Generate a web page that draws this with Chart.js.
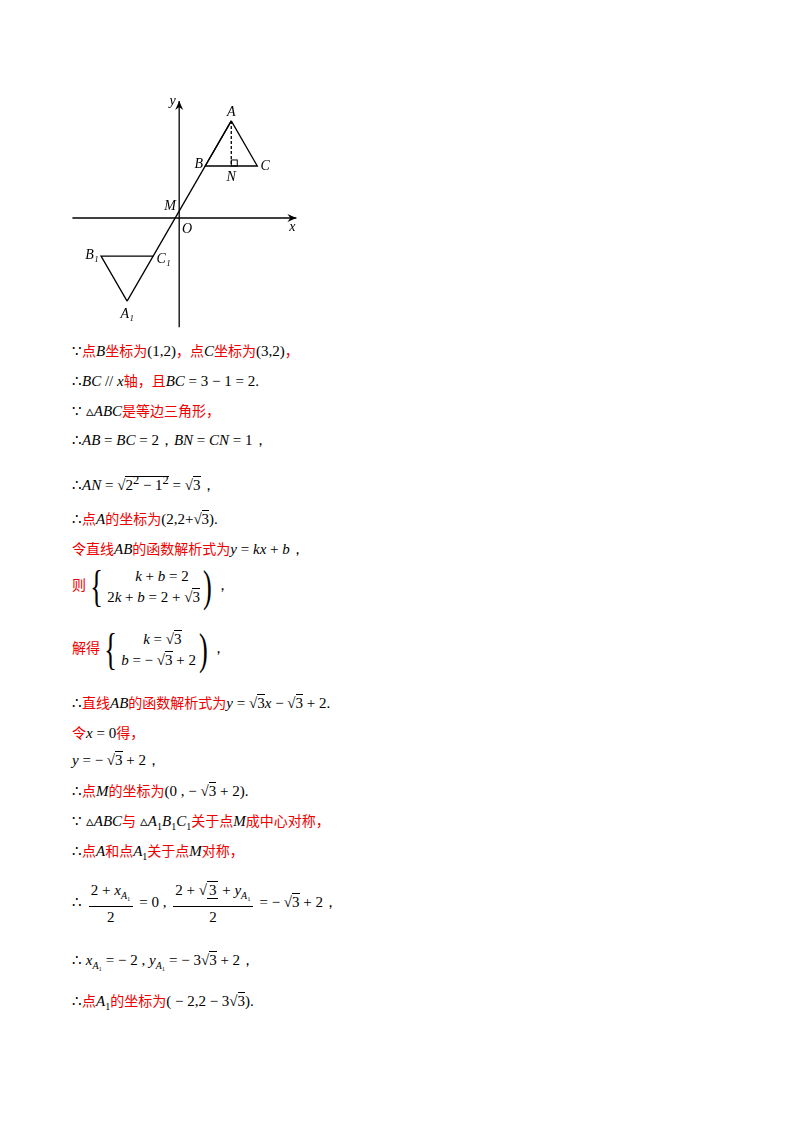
<!DOCTYPE html>
<html><head><meta charset="utf-8">
<script src="https://cdn.jsdelivr.net/npm/chart.js@4/dist/chart.umd.min.js"></script>
<style>
body{margin:0;background:#fff;width:800px;height:1132px;position:relative;font-family:"Liberation Serif",serif;font-size:15px;color:#000}
.l{position:absolute;left:72px;white-space:nowrap;line-height:20px}
.r{color:#e00;font-family:"Noto Sans CJK SC";font-size:14px}
i{font-family:"Liberation Serif";font-style:italic}
sub{font-size:10px}
.sys{display:inline-flex;align-items:center;vertical-align:middle}
.br{font-size:44px;font-weight:100;transform:scaleX(0.6);line-height:44px}
.rows{display:inline-block;line-height:21px}
.fr{display:inline-flex;flex-direction:column;align-items:center;vertical-align:middle;line-height:20px;margin:0 3px}
.fr span:first-child{border-bottom:1px solid #000;padding:0 2px}
</style></head><body>
<div style="position:absolute;left:62px;top:95px;width:250px;height:240px"><canvas id="c" width="250" height="240" style="width:250px;height:240px"></canvas></div>
<div class="l" style="top:340px">∵<span class="r">点</span><i>B</i><span class="r">坐标为</span>(1,2)<span class="r">，点</span><i>C</i><span class="r">坐标为</span>(3,2)<span class="r">，</span></div>
<div class="l" style="top:370px">∴<i>BC</i> // <i>x</i><span class="r">轴，且</span><i>BC</i> = 3 − 1 = 2.</div>
<div class="l" style="top:400px">∵ ▵<i>ABC</i><span class="r">是等边三角形，</span></div>
<div class="l" style="top:430px">∴<i>AB</i> = <i>BC</i> = 2，<i>BN</i> = <i>CN</i> = 1，</div>
<div class="l" style="top:470px">∴<i>AN</i> = √<span style="border-top:1px solid #000">2<sup>2</sup> − 1<sup>2</sup></span> = √<span style="border-top:1px solid #000">3</span>，</div>
<div class="l" style="top:508px">∴<span class="r">点</span><i>A</i><span class="r">的坐标为</span>(2,2+√<span style="border-top:1px solid #000">3</span>).</div>
<div class="l" style="top:538px"><span class="r">令直线</span><i>AB</i><span class="r">的函数解析式为</span><i>y</i> = <i>kx</i> + <i>b</i>，</div>
<div class="l" style="top:565px"><span class="r">则</span><span class="sys"><span class="br">{</span><span class="rows"><span style="padding-left:28px"><i>k</i> + <i>b</i> = 2</span><br>2<i>k</i> + <i>b</i> = 2 + √<span style="border-top:1px solid #000">3</span></span><span class="br">)</span></span>，</div>
<div class="l" style="top:628px"><span class="r">解得</span><span class="sys"><span class="br">{</span><span class="rows"><span style="padding-left:22px"><i>k</i> = √<span style="border-top:1px solid #000">3</span></span><br><i>b</i> = − √<span style="border-top:1px solid #000">3</span> + 2</span><span class="br">)</span></span>，</div>
<div class="l" style="top:692px">∴<span class="r">直线</span><i>AB</i><span class="r">的函数解析式为</span><i>y</i> = √<span style="border-top:1px solid #000">3</span><i>x</i> − √<span style="border-top:1px solid #000">3</span> + 2.</div>
<div class="l" style="top:722px"><span class="r">令</span><i>x</i> = 0<span class="r">得，</span></div>
<div class="l" style="top:750px"><i>y</i> = − √<span style="border-top:1px solid #000">3</span> + 2，</div>
<div class="l" style="top:780px">∴<span class="r">点</span><i>M</i><span class="r">的坐标为</span>(0 , − √<span style="border-top:1px solid #000">3</span> + 2).</div>
<div class="l" style="top:810px">∵ ▵<i>ABC</i><span class="r">与</span> ▵<i>A</i><sub>1</sub><i>B</i><sub>1</sub><i>C</i><sub>1</sub><span class="r">关于点</span><i>M</i><span class="r">成中心对称，</span></div>
<div class="l" style="top:840px">∴<span class="r">点</span><i>A</i><span class="r">和点</span><i>A</i><sub>1</sub><span class="r">关于点</span><i>M</i><span class="r">对称，</span></div>
<div class="l" style="top:880px">∴ <span class="fr"><span>2 + <i>x</i><sub><i>A</i>₁</sub></span><span>2</span></span> = 0 , <span class="fr"><span>2 + √<span style="border-top:1px solid #000">3</span> + <i>y</i><sub><i>A</i>₁</sub></span><span>2</span></span> = − √<span style="border-top:1px solid #000">3</span> + 2，</div>
<div class="l" style="top:950px">∴ <i>x</i><sub><i>A</i>₁</sub> = − 2 , <i>y</i><sub><i>A</i>₁</sub> = − 3√<span style="border-top:1px solid #000">3</span> + 2，</div>
<div class="l" style="top:990px">∴<span class="r">点</span><i>A</i><sub>1</sub><span class="r">的坐标为</span>( − 2,2 − 3√<span style="border-top:1px solid #000">3</span>).</div>
<script>
const s3=Math.sqrt(3), m=2-s3;
const triABC=[{x:2,y:2+s3},{x:1,y:2},{x:3,y:2},{x:2,y:2+s3}];
const triA1=[{x:-2,y:2*m-2-s3},{x:-3,y:2*m-2},{x:-1,y:2*m-2},{x:-2,y:2*m-2-s3}];
const lineAB=[{x:2,y:2+s3},{x:-1,y:2*m-2}];
const altAN=[{x:2,y:2+s3},{x:2,y:2}];
const xAxis=[{x:-4.1,y:0},{x:4.5,y:0}], yAxis=[{x:0,y:-4.2},{x:0,y:4.5}];
const labels=[["A",2.0,4.05],["B",0.75,2.05],["C",3.3,2.0],["N",2.0,1.55],["M",-0.35,0.45],["O",0.3,-0.45],["x",4.35,-0.35],["y",-0.25,4.5],["B₁",-3.35,-1.45],["C₁",-0.6,-1.6],["A₁",-2.0,-3.7]];
const ds=(d,dash)=>({data:d,showLine:true,borderColor:'#000',borderWidth:1.3,pointRadius:0,borderDash:dash||[],tension:0});
new Chart(document.getElementById('c'),{type:'scatter',
data:{datasets:[ds(xAxis),ds(yAxis),ds(triABC),ds(triA1),ds(lineAB),ds(altAN,[3,2])]},
options:{responsive:false,animation:false,maintainAspectRatio:false,layout:{padding:0},
plugins:{legend:{display:false},tooltip:{enabled:false}},
scales:{x:{type:'linear',display:false,min:-4.5,max:5.1},y:{display:false,min:-4.5,max:4.73}}},
plugins:[{id:'deco',afterDatasetsDraw(ch){const c=ch.ctx,X=ch.scales.x,Y=ch.scales.y;
c.save();c.fillStyle='#000';
const ar=(x,y,dx,dy)=>{c.beginPath();c.moveTo(x,y);c.lineTo(x-dx*9-dy*4,y-dy*9+dx*4);c.lineTo(x-dx*6,y-dy*6);c.lineTo(x-dx*9+dy*4,y-dy*9-dx*4);c.closePath();c.fill();};
ar(X.getPixelForValue(4.5),Y.getPixelForValue(0),1,0);ar(X.getPixelForValue(0),Y.getPixelForValue(4.5),0,-1);
const nx=X.getPixelForValue(2),ny=Y.getPixelForValue(2);c.lineWidth=1;c.strokeRect(nx,ny-6,6,6);
c.font='italic 14px "Liberation Serif"';c.textAlign='center';c.textBaseline='middle';
labels.forEach(l=>c.fillText(l[0],X.getPixelForValue(l[1]),Y.getPixelForValue(l[2])));
c.restore();}}]});
</script>
</body></html>
